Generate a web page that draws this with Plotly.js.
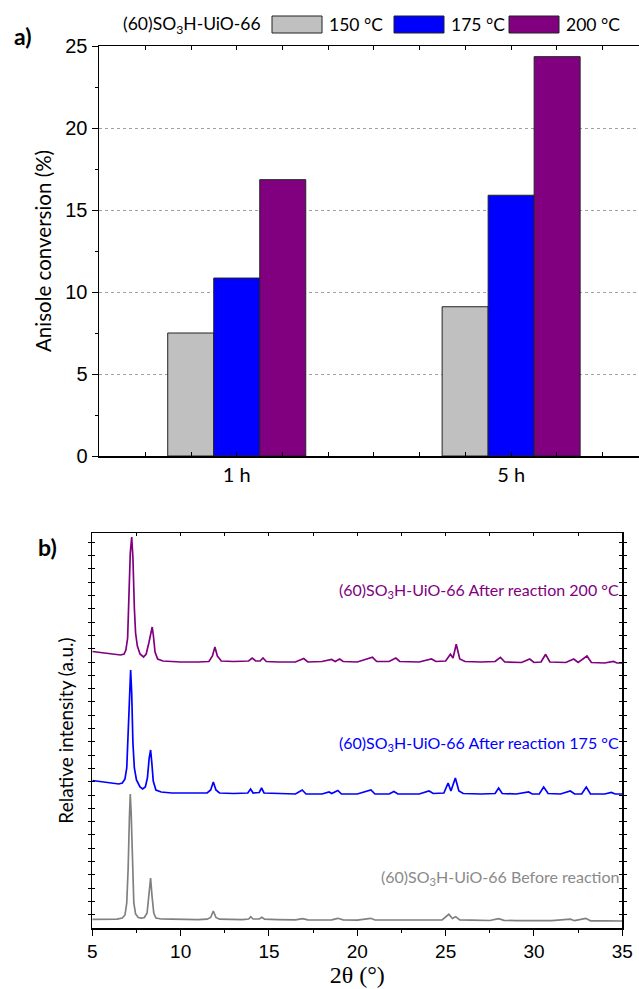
<!DOCTYPE html>
<html>
<head>
<meta charset="utf-8">
<script src="https://cdn.plot.ly/plotly-3.0.1.min.js"></script>
<style>html,body{margin:0;padding:0;background:#fff;}#chart{width:639px;height:989px;}</style>
</head>
<body>
<div id="chart"></div>
<script>
// ---------- Panel a) data ----------
const categories = ['1 h', '5 h'];
const seriesNames = ['150 °C', '175 °C', '200 °C'];
const conv150 = [7.5, 9.1];
const conv175 = [10.85, 15.9];
const conv200 = [16.85, 24.35];
const barColors = ['#c0c0c0', '#0000ff', '#800080'];
const legendTitle = '(60)SO<sub>3</sub>H-UiO-66';

// ---------- Panel b) data (2θ in °, relative intensity in a.u.) ----------
const tt200 = [5.0,5.4,5.8,6.2,6.6,6.8,6.9,7.0,7.08,7.15,7.23,7.3,7.38,7.45,7.55,7.7,7.9,8.05,8.2,8.32,8.39,8.46,8.55,8.7,9.0,9.5,10.0,11.0,11.6,11.8,11.94,12.08,12.3,13.0,13.85,14.05,14.25,14.5,14.66,14.85,15.5,16.5,16.97,17.2,18.0,18.54,18.75,19.0,19.2,20.0,20.86,21.1,21.8,22.18,22.4,23.5,24.2,24.45,25.0,25.27,25.42,25.6,25.8,26.1,27.0,27.8,28.1,28.35,29.3,29.76,30.0,30.4,30.66,30.9,31.8,32.25,32.5,33.0,33.25,34.0,34.5,34.7,35.0];
const int200 = [276.5,275.5,275,274,273,274,278,290,330,375,391,370,320,295,282,274,271,274,285,298,301,292,276,269,267,266.5,266,266,266.5,272,281,272,267,266.5,267,270,267,267,270,266.5,266,266,269.5,266,266.5,268.5,266.5,269,266.5,266,270.7,266.5,266.5,270,266.5,266,269,266.5,267,273.7,270,283.7,269,266.5,266,266.5,270.7,266,265.5,269,265.5,266,273.7,266,265.5,269,265.5,272,265.5,265,266.5,265,265];

const tt175 = [5.0,5.4,5.8,6.2,6.5,6.7,6.85,6.95,7.02,7.1,7.17,7.23,7.3,7.38,7.5,7.7,7.85,8.0,8.12,8.22,8.3,8.37,8.45,8.6,8.9,9.5,10.0,10.5,11.0,11.5,11.7,11.85,12.0,12.2,13.0,13.8,13.96,14.1,14.45,14.58,14.72,15.5,16.5,16.88,17.1,18.0,18.4,18.55,18.9,19.1,20.0,20.77,21.0,21.8,22.07,22.3,23.5,24.06,24.3,24.9,25.14,25.3,25.55,25.75,26.0,27.0,27.8,28.0,28.2,29.0,29.7,29.9,30.3,30.55,30.8,31.5,32.06,32.3,32.7,32.96,33.2,34.0,34.38,34.6,35.0];
const int175 = [147.5,146.5,146,145,144,145,149,160,190,240,258,235,185,160,148,141,139,141,150,170,178,165,147,138,136,135,135,135,134.5,135,138,146,138,135,134.5,135,139,135,135.5,140,135,134.5,134,138,134,134,136,134.5,137.5,134,134,138,134,134,136.5,134,134,137,134.5,135,145,137,150,137,134.5,134,134.5,140,134.5,134,136,134,134,141,134.5,134,137,134,134,141,134,134,135.5,134,134];

const ttBefore = [5.0,5.5,6.0,6.4,6.7,6.85,6.95,7.03,7.1,7.15,7.2,7.27,7.35,7.45,7.6,7.8,7.95,8.1,8.2,8.3,8.38,8.48,8.6,8.9,9.5,10.0,10.5,11.0,11.5,11.7,11.85,12.0,12.2,13.0,13.5,13.85,13.97,14.1,14.45,14.6,14.75,15.5,16.5,16.9,17.2,18.0,18.4,18.55,18.9,19.2,20.0,20.76,21.0,22.0,22.2,22.4,23.0,24.1,24.8,25.18,25.38,25.57,25.8,26.5,27.5,28.0,28.3,29.0,30.0,31.0,32.06,32.3,32.93,33.2,34.0,35.0];
const intBefore = [8.6,8.8,8.5,8.9,10,13,25,60,110,134,115,60,25,14,10.5,9.8,10.5,15,32,50,32,15,10,9,8.8,8.5,8.6,8.4,8.8,10.5,17,10.5,8.8,8.6,8.3,9,11.3,9,9,10.7,8.8,8.4,8.2,9.3,8.2,8.0,8.5,8.2,9.7,8.1,7.9,9.7,8.0,7.9,8.4,7.9,7.8,8.3,8.2,13.7,9.5,11.3,8.0,7.8,7.5,9.3,7.6,7.4,7.3,7.3,8.8,7.3,9.7,7.2,7.1,7.0];

const xrdLabels = ['(60)SO<sub>3</sub>H-UiO-66 After reaction 200 °C',
                   '(60)SO<sub>3</sub>H-UiO-66 After reaction 175 °C',
                   '(60)SO<sub>3</sub>H-UiO-66 Before reaction'];
const xrdLabelY = [338, 185, 51];
const xrdColors = ['#800080', '#0000ff', '#808080'];

// ---------- helpers for pixel -> paper ----------
const W = 639, H = 989;
const px = v => v / W;
const py = v => 1 - v / H;

const catPos = categories.map((c, i) => i);
const barSeries = [conv150, conv175, conv200];

const traces = barSeries.map((vals, i) => ({
  type: 'bar', x: catPos, y: vals, name: seriesNames[i],
  marker: {color: barColors[i], line: {color: '#222', width: 1}},
  xaxis: 'x', yaxis: 'y', showlegend: false, hoverinfo: 'y'
}));

const xrdX = [tt200, tt175, ttBefore];
const xrdY = [int200, int175, intBefore];
xrdX.forEach((xs, i) => {
  traces.push({type: 'scatter', mode: 'lines', x: xs, y: xrdY[i],
    line: {color: xrdColors[i], width: 1.7}, xaxis: 'x2', yaxis: 'y2', showlegend: false});
});
// empty trace to carry the mirrored top tick axis
traces.push({type: 'scatter', mode: 'lines', x: [], y: [], xaxis: 'x3', yaxis: 'y2', showlegend: false});

const sansA = "'Liberation Sans', Arial, sans-serif";
const sansC = "Lato, 'Open Sans', sans-serif";
const serif = "'Liberation Serif', 'Times New Roman', 'DejaVu Serif', serif";

const annotations = [
  {text: '<b>a)</b>', x: px(23), y: py(36), xref: 'paper', yref: 'paper', xanchor: 'center', yanchor: 'middle', showarrow: false, font: {family: sansC, size: 23, color: '#000'}},
  {text: '<b>b)</b>', x: px(47), y: py(547), xref: 'paper', yref: 'paper', xanchor: 'center', yanchor: 'middle', showarrow: false, font: {family: sansC, size: 23, color: '#000'}},
  {text: legendTitle, x: px(121), y: py(25), xref: 'paper', yref: 'paper', xanchor: 'left', yanchor: 'middle', showarrow: false, font: {family: sansC, size: 17.5, color: '#000'}}
];
const shapes = [];
const boxL = [272, 394, 509];
seriesNames.forEach((n, i) => {
  shapes.push({type: 'rect', xref: 'paper', yref: 'paper', x0: px(boxL[i]), x1: px(boxL[i] + 50), y0: py(33), y1: py(16),
    fillcolor: barColors[i], line: {color: '#222', width: 1}});
  annotations.push({text: n, x: px(boxL[i] + 55), y: py(25), xref: 'paper', yref: 'paper', xanchor: 'left', yanchor: 'middle', showarrow: false,
    font: {family: sansC, size: 17.5, color: '#000'}});
});
xrdLabels.forEach((t, i) => {
  annotations.push({text: t, x: 34.9, y: xrdLabelY[i], xref: 'x2', yref: 'y2', xanchor: 'right', yanchor: 'middle', showarrow: false,
    font: {family: sansC, size: 16, color: i === 2 ? '#8a8a8a' : xrdColors[i]}});
});

const layout = {
  width: W, height: H,
  margin: {l: 0, r: 0, t: 0, b: 0},
  paper_bgcolor: '#fff', plot_bgcolor: 'rgba(0,0,0,0)',
  barmode: 'group', bargap: 0.497, bargroupgap: 0,
  xaxis: {
    domain: [px(99), 1], anchor: 'y', range: [-0.502, 1.466],
    tickvals: catPos, ticktext: categories, ticks: 'inside', ticklen: 0,
    minor: {dtick: 1 / 6, tick0: 0, ticks: 'inside', ticklen: 4, tickcolor: '#000', showgrid: false},
    showline: true, linecolor: '#000', linewidth: 1.5, mirror: 'allticks', showgrid: false, zeroline: false,
    tickfont: {family: sansC, size: 20, color: '#000'}
  },
  yaxis: {
    domain: [py(456), py(46)], anchor: 'x', range: [0, 25], dtick: 5,
    ticks: 'outside', ticklen: 6, tickwidth: 1, tickcolor: '#000',
    minor: {dtick: 2.5, ticks: 'outside', ticklen: 3, tickcolor: '#000', showgrid: false},
    showline: true, linecolor: '#000', linewidth: 1.5, zeroline: false,
    showgrid: true, gridcolor: '#a0a0a0', griddash: 'dot', gridwidth: 1,
    tickfont: {family: sansA, size: 20, color: '#000'},
    title: {text: 'Anisole conversion (%)', font: {family: sansC, size: 20.5, color: '#000'}, standoff: 8}
  },
  xaxis2: {
    domain: [px(92.3), px(622.3)], anchor: 'y2', range: [5, 35], dtick: 5,
    ticks: 'outside', ticklen: 6, tickcolor: '#000',
    minor: {dtick: 2.5, ticks: 'outside', ticklen: 3, tickcolor: '#000'},
    showline: true, linecolor: '#000', linewidth: 1.5, mirror: true, showgrid: false, zeroline: false,
    tickfont: {family: sansA, size: 19, color: '#000'},
    title: {text: '2θ (°)', font: {family: serif, size: 24, color: '#000'}, standoff: 3}
  },
  xaxis3: {
    overlaying: 'x2', side: 'top', anchor: 'y2', range: [5, 35], dtick: 2.5,
    ticks: 'inside', ticklen: 3, tickcolor: '#000', showticklabels: false, showgrid: false, zeroline: false, showline: false
  },
  yaxis2: {
    domain: [py(928), py(533)], anchor: 'x2', range: [0, 395], dtick: 13.3, tick0: 0,
    ticks: 'inside', ticklen: 3, tickcolor: '#000', showticklabels: false,
    showline: true, linecolor: '#000', linewidth: 1.5, mirror: 'allticks', showgrid: false, zeroline: false,
    title: {text: 'Relative intensity (a.u.)', font: {family: sansC, size: 19, color: '#000'}, standoff: 12}
  },
  annotations: annotations,
  shapes: shapes
};

Plotly.newPlot('chart', traces, layout, {displayModeBar: false, staticPlot: true});
</script>
</body>
</html>
